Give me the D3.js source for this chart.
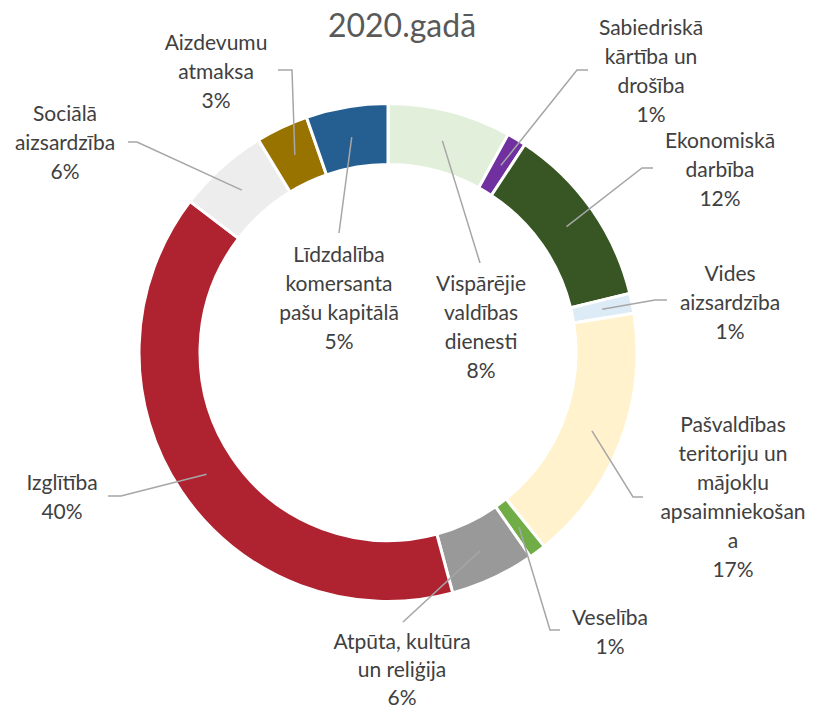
<!DOCTYPE html>
<html>
<head>
<meta charset="utf-8">
<script src="https://cdn.jsdelivr.net/npm/d3@7"></script>
<style>
  body { margin: 0; background: #fff; }
  text { font-family: Lato, "Open Sans", sans-serif; }
</style>
</head>
<body>
<svg id="chart" width="815" height="711"></svg>
<script>
// slices, clockwise from 12 o'clock (values in %)
const categories = [
  "Vispārējie valdības dienesti",
  "Sabiedriskā kārtība un drošība",
  "Ekonomiskā darbība",
  "Vides aizsardzība",
  "Pašvaldības teritoriju un mājokļu apsaimniekošana",
  "Veselība",
  "Atpūta, kultūra un reliģija",
  "Izglītība",
  "Sociālā aizsardzība",
  "Aizdevumu atmaksa",
  "Līdzdalība komersanta pašu kapitālā"
];
const values = [8.0, 1.25, 11.9, 1.3, 16.7, 1.1, 5.5, 39.5, 5.9, 3.4, 5.3];
const colors = ["#E2EFDA", "#7030A0", "#375623", "#DDEBF7", "#FFF2CC", "#70AD47",
                "#999999", "#AF2331", "#EDEDED", "#997300", "#255E91"];
const title = "2020.gadā";

// label layout (wrapped lines, text centre / first baseline, leader elbow + end)
const labelLayout = [
  { lines: ["Vispārējie", "valdības", "dienesti"], x: 481, y: 291, elbow: [480, 263] },
  { lines: ["Sabiedriskā", "kārtība un", "drošība"], x: 651, y: 35, elbow: [577, 70], end: 588 },
  { lines: ["Ekonomiskā", "darbība"], x: 720, y: 148, elbow: [642, 168], end: 653 },
  { lines: ["Vides", "aizsardzība"], x: 730, y: 281, elbow: [655, 300], end: 667 },
  { lines: ["Pašvaldības", "teritoriju un", "mājokļu", "apsaimniekošan", "a"], x: 733, y: 432, elbow: [633, 497], end: 643 },
  { lines: ["Veselība"], x: 610, y: 625, elbow: [550, 630], end: 560 },
  { lines: ["Atpūta, kultūra", "un reliģija"], x: 402, y: 649, lh: 28, elbow: [403, 622] },
  { lines: ["Izglītība"], x: 62, y: 490, elbow: [121, 496], end: 108 },
  { lines: ["Sociālā", "aizsardzība"], x: 65, y: 121, elbow: [137, 142], end: 128 },
  { lines: ["Aizdevumu", "atmaksa"], x: 216, y: 50, elbow: [292, 70], end: 278 },
  { lines: ["Līdzdalība", "komersanta", "pašu kapitālā"], x: 339, y: 262, elbow: [339, 233] }
];

const svg = d3.select("#chart");
const cx = 388, cy = 352.5;
const outerR = 249, innerR = 188; // white 3px stroke trims ~1.5px on each edge
const lineH = 29;

const data = categories.map((c, i) => ({ name: c, value: values[i], color: colors[i], layout: labelLayout[i] }));
const total = d3.sum(values);

const pie = d3.pie().value(d => d.value).sort(null);
const arc = d3.arc().innerRadius(innerR).outerRadius(outerR);
const arcs = pie(data);

const g = svg.append("g").attr("transform", "translate(" + cx + "," + cy + ")");

g.selectAll("path.slice")
  .data(arcs)
  .join("path")
  .attr("class", "slice")
  .attr("d", arc)
  .attr("fill", d => d.data.color)
  .attr("stroke", "#fff")
  .attr("stroke-width", 3);

// leader lines from slice centroid to label
svg.selectAll("polyline.leader")
  .data(arcs)
  .join("polyline")
  .attr("class", "leader")
  .attr("fill", "none")
  .attr("stroke", "#A6A6A6")
  .attr("stroke-width", 1.5)
  .attr("points", d => {
    const c = arc.centroid(d);
    const L = d.data.layout;
    const pts = [[cx + c[0], cy + c[1]], L.elbow];
    if (L.end !== undefined) pts.push([L.end, L.elbow[1]]);
    return pts.map(p => p.join(",")).join(" ");
  });

// labels: wrapped category name + percentage
const lbl = svg.selectAll("text.label")
  .data(arcs)
  .join("text")
  .attr("class", "label")
  .attr("text-anchor", "middle")
  .attr("font-size", "21px")
  .attr("fill", "#404040");

lbl.each(function (d) {
  const L = d.data.layout;
  const lh = L.lh || lineH;
  const lines = L.lines.concat([Math.round(d.data.value / total * 100) + "%"]);
  d3.select(this).selectAll("tspan")
    .data(lines)
    .join("tspan")
    .attr("x", L.x)
    .attr("y", (t, i) => L.y + i * lh)
    .text(t => t);
});

svg.append("text")
  .attr("x", 402)
  .attr("y", 37)
  .attr("text-anchor", "middle")
  .attr("font-size", "32px")
  .attr("fill", "#595959")
  .text(title);
</script>
</body>
</html>
